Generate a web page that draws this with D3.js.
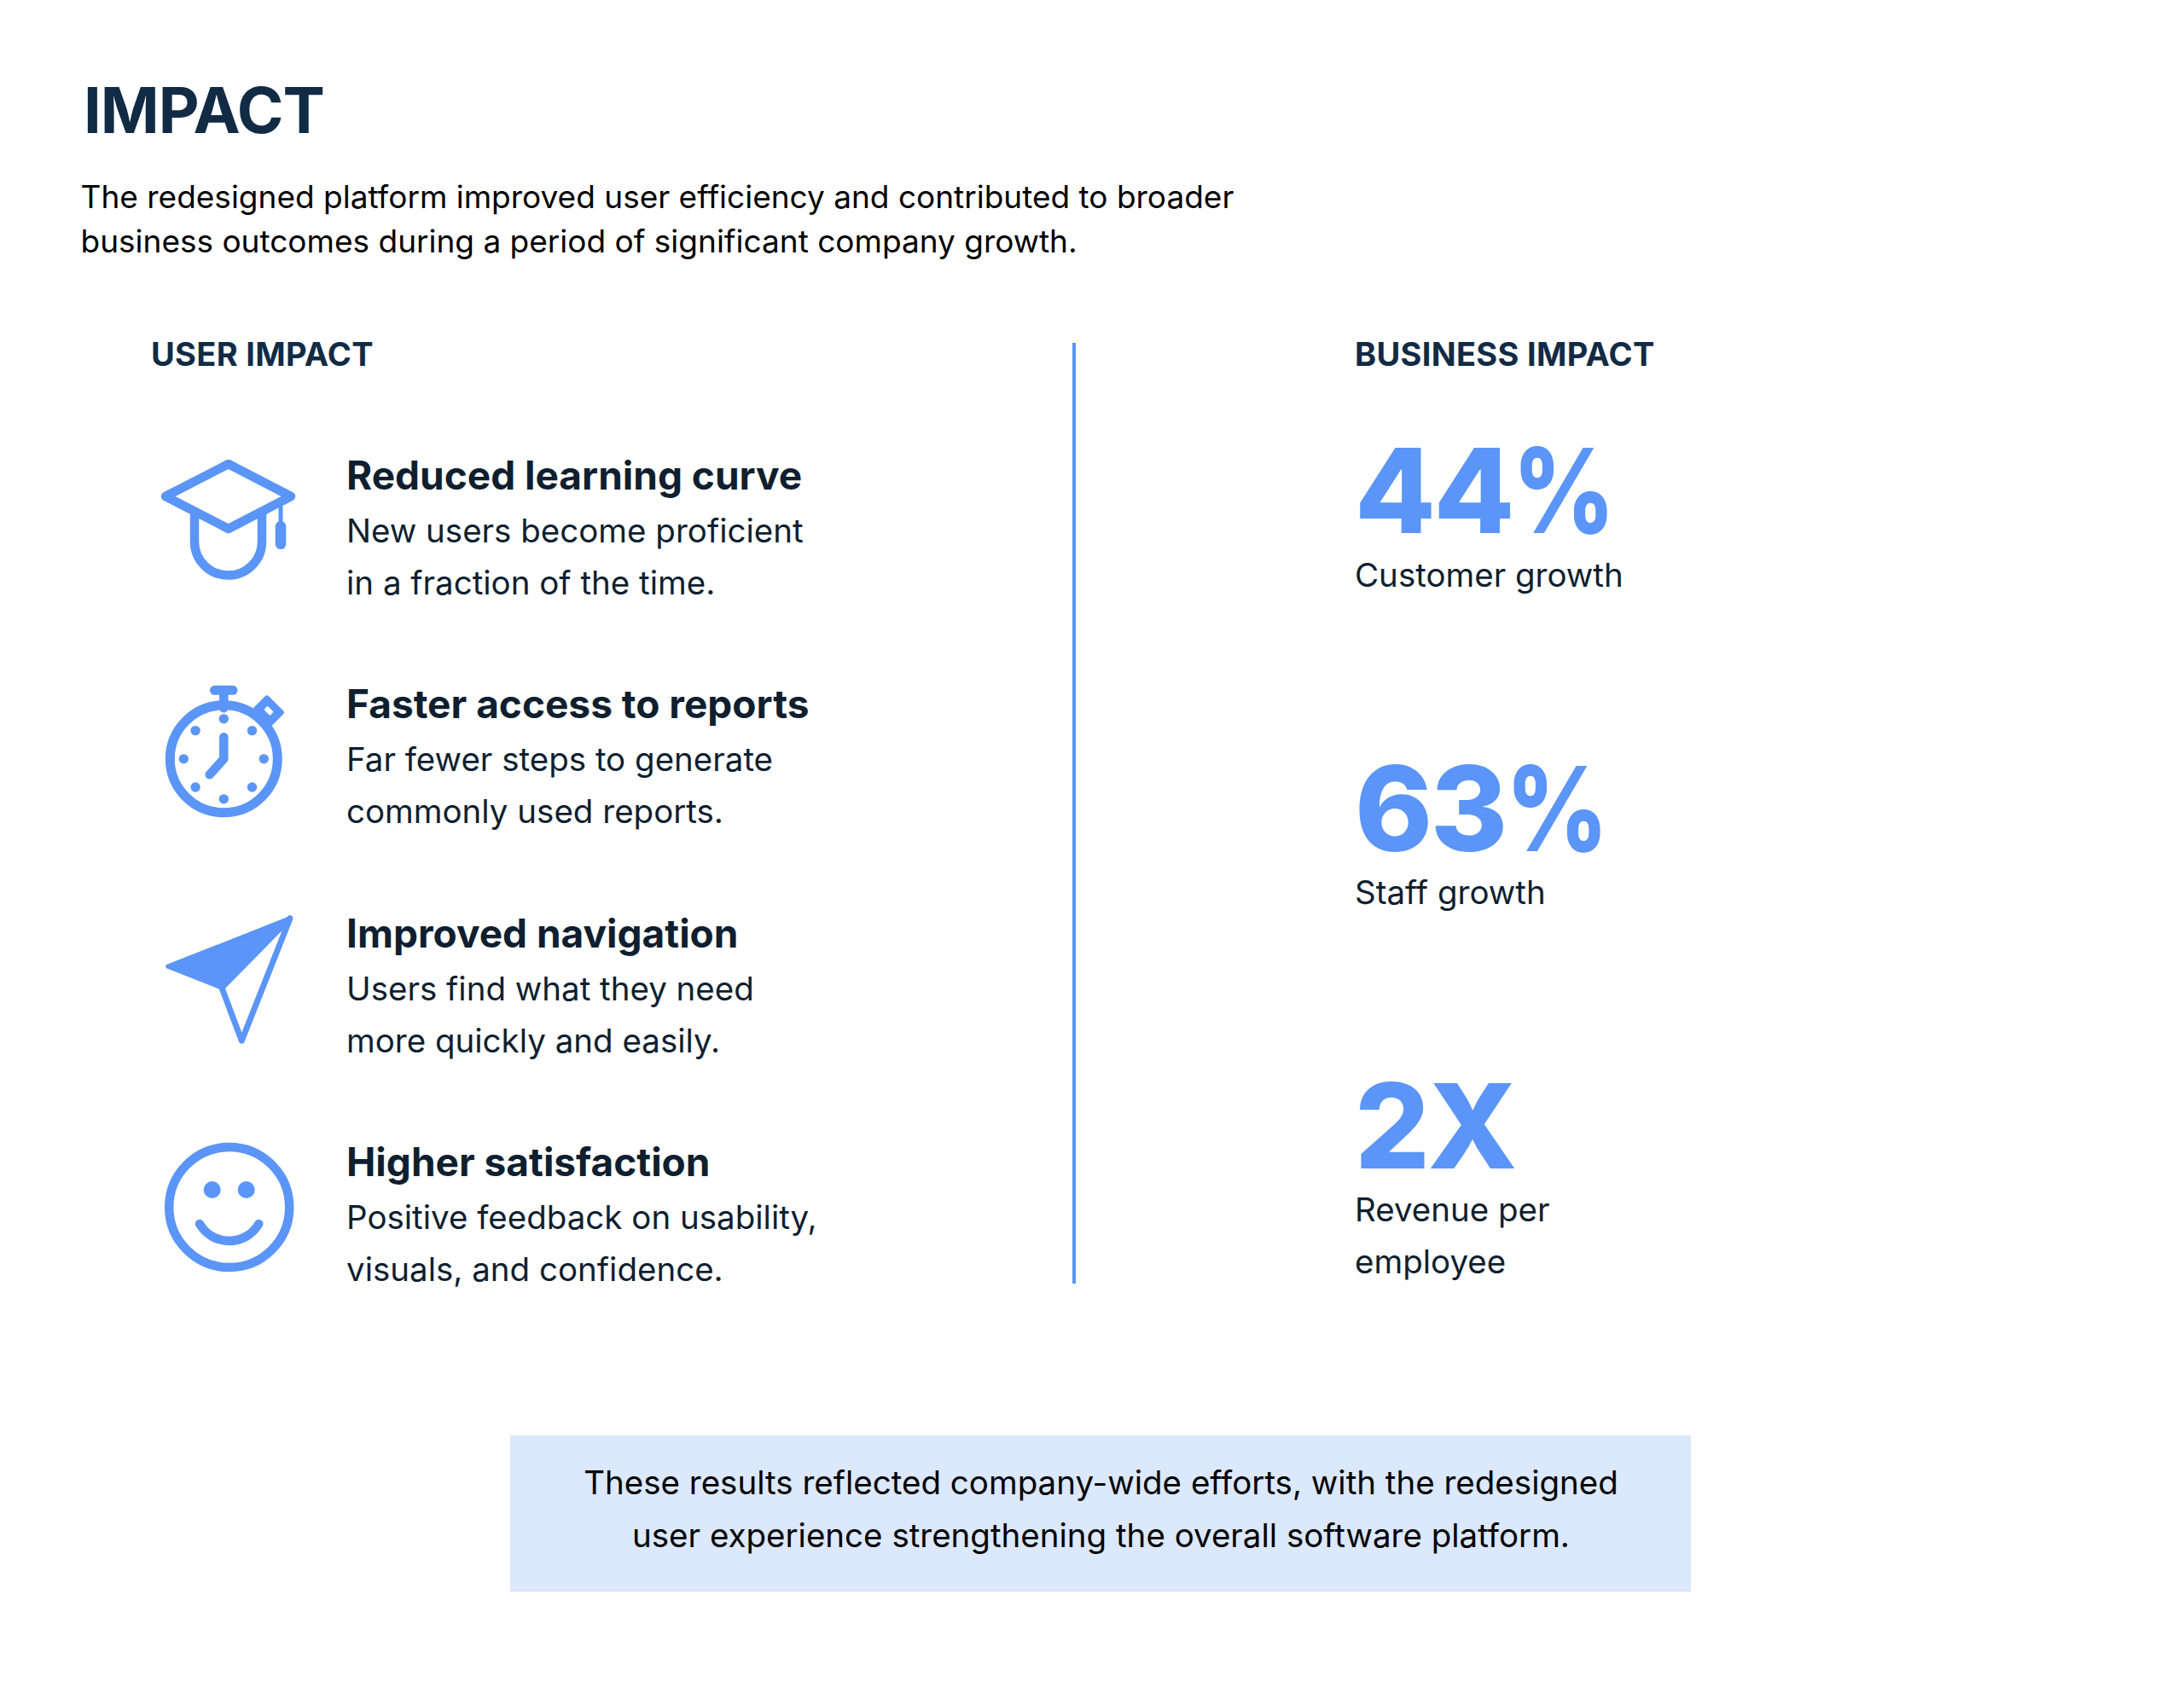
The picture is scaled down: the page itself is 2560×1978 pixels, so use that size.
<!DOCTYPE html>
<html>
<head>
<meta charset="utf-8">
<title>Impact</title>
<script src="https://cdn.jsdelivr.net/npm/d3@7"></script>
<style>
  html, body { margin: 0; padding: 0; background: #fff; }
  svg { display: block; }
  text { font-family: Inter, sans-serif; }
</style>
</head>
<body>
<div id="chart"></div>
<script>
const heading = "IMPACT"
const introLines = [
  "The redesigned platform improved user efficiency and contributed to broader",
  "business outcomes during a period of significant company growth."
]
const userHeading = "USER IMPACT"
const businessHeading = "BUSINESS IMPACT"

const userTitles = ["Reduced learning curve", "Faster access to reports", "Improved navigation", "Higher satisfaction"]
const userFirstLines = ["New users become proficient", "Far fewer steps to generate", "Users find what they need", "Positive feedback on usability,"]
const userSecondLines = ["in a fraction of the time.", "commonly used reports.", "more quickly and easily.", "visuals, and confidence."]
const userIcons = ["cap", "watch", "plane", "smile"]

const metricValues = ["44", "63", "2"]
const metricUnits = ["%", "%", "X"]
const metricLabels = [["Customer growth"], ["Staff growth"], ["Revenue per", "employee"]]

const noteLines = [
  "These results reflected company-wide efforts, with the redesigned",
  "user experience strengthening the overall software platform."
]

const blue = "#5b95f7"
const navy = "#122b45"
const ink = "#0f1f30"

const svg = d3.select("#chart").append("svg")
  .attr("width", 2560)
  .attr("height", 1978)

// rows and columns
const rowY = d3.scalePoint().domain(userTitles).range([574, 1379])
const metricY = d3.scalePoint().domain(metricValues).range([625, 1370])
const labelY = d3.scalePoint().domain(metricValues).range([688, 1432])

function addText (parent, str, x, y, size, weight, color, spacing) {
  return parent.append("text")
    .text(str)
    .attr("x", x)
    .attr("y", y)
    .style("font-size", size + "px")
    .style("font-weight", weight)
    .style("letter-spacing", (spacing || 0) + "px")
    .style("fill", color)
}

function outline (sel, w) {
  sel.style("fill", "none")
    .style("stroke", blue)
    .style("stroke-width", w)
    .style("stroke-linecap", "round")
    .style("stroke-linejoin", "round")
}

addText(svg, heading, 98, 156, 74, 700, navy, -1)
introLines.forEach((l, i) => addText(svg, l, 94.5, 243.5 + i * 52, 37, 400, "#000", 0))
addText(svg, userHeading, 177, 429, 38, 700, navy, 0.3)
addText(svg, businessHeading, 1588, 429, 38, 700, navy, 0.3)

svg.append("line")
  .attr("x1", 1259).attr("x2", 1259)
  .attr("y1", 402).attr("y2", 1505)
  .style("stroke", blue)
  .style("stroke-width", 4)

// icons, drawn relative to the title baseline of their row
const icons = {
  cap (g) {
    g.append("path")
      .attr("d", "M267.7,-30 L194,8 L267.7,46 L341,8 Z")
      .call(outline, 10.5)
    g.append("path")
      .attr("d", "M228,26 V61 A39.5,39.5 0 0 0 307,61 V26")
      .call(outline, 10.5)
    g.append("line")
      .attr("x1", 329).attr("x2", 329).attr("y1", 21).attr("y2", 42)
      .call(outline, 5)
    g.append("rect")
      .attr("x", 322.7).attr("y", 37).attr("width", 12.6).attr("height", 33).attr("rx", 6.3)
      .style("fill", blue)
  },
  watch (g) {
    const cx = 262.3, cy = 47.5
    g.append("circle").attr("cx", cx).attr("cy", cy).attr("r", 63)
      .call(outline, 11)
    g.append("path").attr("d", `M${cx},-27 V-12`).call(outline, 10.5)
    g.append("path").attr("d", "M251.5,-33 H273").call(outline, 11)
    g.append("g")
      .attr("transform", "translate(315,-9) rotate(45)")
      .call(c => {
        c.append("rect").attr("x", -15).attr("y", -12).attr("width", 30).attr("height", 24).attr("rx", 3)
          .style("fill", blue)
        c.append("rect").attr("x", -5).attr("y", -3).attr("width", 10).attr("height", 6)
          .style("fill", "#fff")
      })
    g.selectAll(".dot")
      .data(d3.range(8))
      .join("circle")
      .attr("class", "dot")
      .attr("cx", d => cx + 47 * Math.sin(d * Math.PI / 4))
      .attr("cy", d => cy - 47 * Math.cos(d * Math.PI / 4))
      .attr("r", 5.7)
      .style("fill", blue)
    g.append("path")
      .attr("d", `M${cx},22 V${cy} L245.7,66`)
      .call(outline, 10.5)
  },
  plane (g) {
    g.append("path")
      .attr("d", "M340,-34 L196.7,22.5 L260,47.5 Z")
      .call(outline, 5)
      .style("fill", blue)
    g.append("path")
      .attr("d", "M260,47.5 L340,-34 L283.3,109.5 Z")
      .call(outline, 7)
  },
  smile (g) {
    g.append("circle").attr("cx", 268.7).attr("cy", 36.5).attr("r", 70.5)
      .call(outline, 10.5)
    g.selectAll(".eye")
      .data([248.7, 288.7])
      .join("circle")
      .attr("class", "eye")
      .attr("cx", d => d)
      .attr("cy", 16)
      .attr("r", 10)
      .style("fill", blue)
    g.append("path")
      .attr("d", "M234,56 A40,40 0 0 0 303.3,56")
      .call(outline, 10.5)
  }
}

// user impact rows
userTitles.forEach((title, i) => {
  const y = rowY(title)
  const row = svg.append("g").attr("class", "user-row")
  addText(row, title, 406, y, 46, 700, ink, 0)
  addText(row, userFirstLines[i], 406, y + 62, 38.5, 400, ink, 0)
  addText(row, userSecondLines[i], 406, y + 123, 38.5, 400, ink, 0)
  icons[userIcons[i]](row.append("g").attr("transform", `translate(0,${y})`))
})

// business metrics, the percent sign is narrower than the stock glyph
metricValues.forEach((v, i) => {
  const big = addText(svg, v, 1588, metricY(v), 138, 800, blue, -2.5)
  const unit = big.append("tspan").text(metricUnits[i])
  if (metricUnits[i] === "%") {
    unit.attr("textLength", 118).attr("lengthAdjust", "spacingAndGlyphs")
  }
  metricLabels[i].forEach((l, j) => addText(svg, l, 1588, labelY(v) + j * 61, 38.5, 400, ink, 0))
})

// footer note
svg.append("rect")
  .attr("x", 598).attr("y", 1683)
  .attr("width", 1384).attr("height", 183.5)
  .style("fill", "#dbe8fd")

svg.selectAll(".note")
  .data(noteLines)
  .join("text")
  .attr("class", "note")
  .text(d => d)
  .attr("x", 1290.5)
  .attr("y", (d, i) => 1752 + i * 61.5)
  .attr("text-anchor", "middle")
  .style("font-size", "38.5px")
  .style("fill", "#000")
</script>
</body>
</html>
